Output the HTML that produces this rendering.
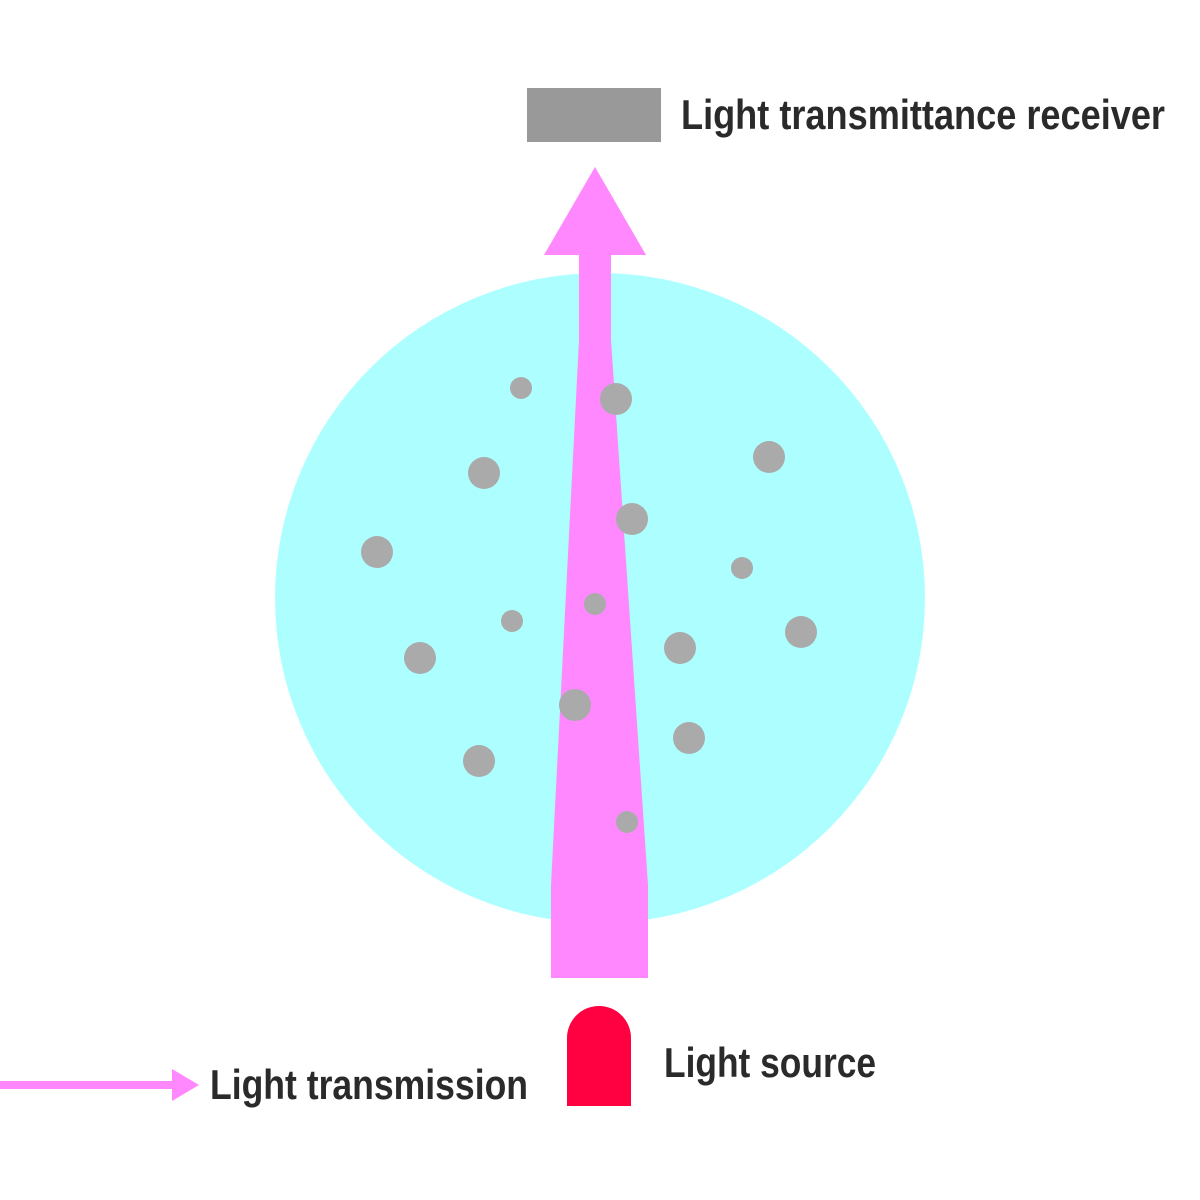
<!DOCTYPE html>
<html><head><meta charset="utf-8"><style>html,body{margin:0;padding:0;background:#fff}svg{display:block}</style></head>
<body>
<svg width="1200" height="1200" viewBox="0 0 1200 1200" xmlns="http://www.w3.org/2000/svg">
<rect width="1200" height="1200" fill="#fff"/>
<circle cx="600" cy="598" r="325" fill="#adffff"/>
<polygon points="595,167 646,255 611,255 611,340 648,885 648,978 551,978 551,885 579,340 579,255 544,255" fill="#ff88ff"/>
<g fill="#aaaaaa">
<circle cx="521" cy="388" r="11"/><circle cx="616" cy="399" r="16"/><circle cx="484" cy="473" r="16"/>
<circle cx="769" cy="457" r="16"/><circle cx="632" cy="519" r="16"/><circle cx="377" cy="552" r="16"/>
<circle cx="742" cy="568" r="11"/><circle cx="595" cy="604" r="11"/><circle cx="512" cy="621" r="11"/>
<circle cx="801" cy="632" r="16"/><circle cx="420" cy="658" r="16"/><circle cx="680" cy="648" r="16"/>
<circle cx="575" cy="705" r="16"/><circle cx="689" cy="738" r="16"/><circle cx="479" cy="761" r="16"/>
<circle cx="627" cy="822" r="11"/>
</g>
<rect x="527" y="88" width="134" height="54" fill="#999999"/>
<path d="M567,1106 V1038 A32,32 0 0 1 631,1038 V1106 Z" fill="#ff0040"/>
<rect x="0" y="1081" width="176" height="8" fill="#ff88ff"/>
<polygon points="199,1085 172,1069 172,1101" fill="#ff88ff"/>
<g font-family="'Liberation Sans Narrow','Liberation Sans',sans-serif" font-weight="bold" font-size="42" fill="#2a2a2a">
<text x="681" y="129" textLength="484" lengthAdjust="spacingAndGlyphs">Light transmittance receiver</text>
<text x="664" y="1077" textLength="212" lengthAdjust="spacingAndGlyphs">Light source</text>
<text x="210" y="1099" textLength="318" lengthAdjust="spacingAndGlyphs">Light transmission</text>
</g>
</svg>
</body></html>
